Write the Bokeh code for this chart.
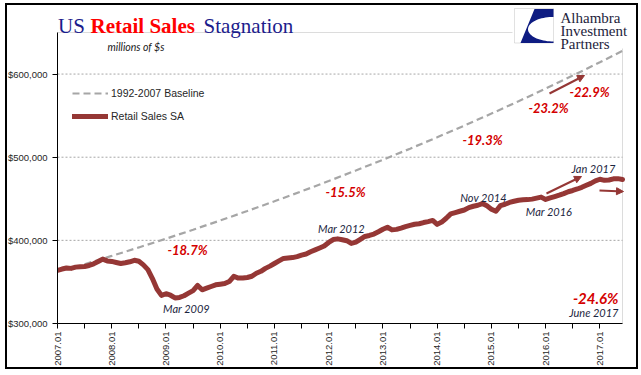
import math
import numpy as np
from bokeh.plotting import figure
from bokeh.models import (Label, Legend, LegendItem, FixedTicker, NumeralTickFormatter,
                          Arrow, NormalHead, BoxAnnotation, PolyAnnotation, Range1d,
                          InlineStyleSheet)
from bokeh.embed import file_html
from bokeh.resources import INLINE

# ---------------- data ----------------
month_labels = [f"{y}-{m:02d}" for y in range(2007, 2018) for m in range(1, 13)][:126]

# US Retail Sales SA, millions of $ (Jan 2007 - Jun 2017)
retail_sales = [
    363900, 365500, 366800, 366300, 367800, 368300, 368600, 369800, 371800, 374500, 377500, 375300,
    374700, 373400, 372200, 373000, 374200, 376000, 374800, 370500, 364800, 354000, 341500, 333800,
    335800, 334000, 330800, 331400, 333400, 336500, 339500, 345800, 340500, 342500, 344500, 346500,
    347300, 348000, 350500, 356800, 354600, 354600, 355300, 356800, 360500, 362800, 366300, 369000,
    372200, 375300, 378300, 378800, 379300, 380500, 382300, 383600, 386300, 388500, 390800, 393200,
    397500, 401000, 401800, 400800, 399600, 396300, 397800, 401300, 404700, 405900, 407600, 410400,
    413400, 415800, 412600, 413200, 414800, 416600, 418000, 419400, 420000, 421400, 422600, 424000,
    419200, 422000, 426600, 431800, 433400, 435000, 436500, 439400, 441000, 442200, 444200, 441500,
    437500, 435000, 441800, 443400, 445600, 447000, 448200, 448800, 449000, 449600, 450800, 452000,
    449200, 451000, 452600, 454300, 456200, 458500, 460000, 461800, 463800, 466200, 468500, 471500,
    473500, 472200, 472600, 474000, 474200, 473200,
]

# 1992-2007 Baseline (trend projection), millions of $
baseline_months = ["2007-07", "2008-01", "2008-07", "2009-01", "2009-07", "2010-01", "2010-07",
                   "2011-01", "2011-07", "2012-01", "2012-07", "2013-01", "2013-07", "2014-01",
                   "2014-07", "2015-01", "2015-07", "2016-01", "2016-07", "2017-01", "2017-06"]
baseline_values = [371300, 381300, 391500, 402000, 412800, 423900, 435300,
                   447000, 459000, 471300, 484000, 496900, 510300, 524000,
                   538000, 552500, 567300, 582500, 598200, 614200, 627900]

x_tick_months = ["2007-01", "2008-01", "2009-01", "2010-01", "2011-01", "2012-01",
                 "2013-01", "2014-01", "2015-01", "2016-01", "2017-01"]
x_tick_labels = ["2007.01", "2008.01", "2009.01", "2010.01", "2011.01", "2012.01",
                 "2013.01", "2014.01", "2015.01", "2016.01", "2017.01"]
y_tick_values = [300000, 400000, 500000, 600000]
y_axis_max = 650000

pct_texts = ["-18.7%", "-15.5%", "-19.3%", "-23.2%", "-22.9%", "-24.6%"]
date_texts = ["Mar 2009", "Mar 2012", "Nov 2014", "Mar 2016", "Jan 2017", "June 2017"]

# ---------------- geometry helpers (page px -> data) ----------------
W, H = 641, 375
FRAME_L, FRAME_R, FRAME_T, FRAME_B = 57, 622, 32, 323   # visible chart area, page px
X_MAX = len(month_labels) - 1
Y_MIN, Y_MAX = y_tick_values[0], y_axis_max

def px2x(px):
    return (px - FRAME_L) * X_MAX / (FRAME_R - FRAME_L)

def py2y(py):
    return Y_MIN + (FRAME_B - py) * (Y_MAX - Y_MIN) / (FRAME_B - FRAME_T)

x_retail = list(range(len(month_labels)))
x_base = [month_labels.index(m) for m in baseline_months]
x_ticks = [month_labels.index(m) for m in x_tick_months]
x_minor = [t + 6 for t in x_ticks if t + 6 <= X_MAX]

DARK_RED = "#953735"
NAVY = "#1c1c8c"
PCT_RED = "#d40000"
DATE_COL = "#1b2540"

# the drawing frame reaches the top/right edge of the canvas so that the title and
# logo (which sit above the chart area) are not clipped
border_css = InlineStyleSheet(css="""
:host { position: relative; }
:host::after { content: ""; position: absolute; left: 5px; top: 3px; width: 633px; height: 366px;
  border: 2px solid #000; box-sizing: border-box; pointer-events: none; z-index: 10; }
""")

p = figure(width=W, height=H, output_backend="svg", toolbar_location=None,
           x_range=Range1d(0, px2x(W)), y_range=Range1d(Y_MIN, py2y(0)),
           min_border_left=FRAME_L, min_border_right=0,
           min_border_top=0, min_border_bottom=H - FRAME_B,
           background_fill_color="white", border_fill_color="white",
           stylesheets=[border_css])
p.outline_line_color = None

# grid lines (dotted) at the upper y ticks
p.segment(x0=[0] * 3, x1=[X_MAX] * 3, y0=y_tick_values[1:], y1=y_tick_values[1:],
          line_color="#a6a6a6", line_dash="2 2", line_width=1)

# lines
r_base = p.line(x_base, baseline_values, line_color="#a6a6a6", line_width=2.2, line_dash="7 4")
r_retail = p.line(x_retail, retail_sales, line_color=DARK_RED, line_width=5,
                  line_join="round", line_cap="round")

# chart-area outline (grey)
p.add_layout(BoxAnnotation(left=0, right=X_MAX, bottom=Y_MIN, top=Y_MAX, fill_alpha=0,
                           line_color="#8c8c8c", line_width=1, level="underlay"))

# axes
xa = p.xaxis[0]
xa.bounds = (0, X_MAX)
xa.ticker = FixedTicker(ticks=x_ticks, minor_ticks=x_minor)
xa.major_label_overrides = {t: l for t, l in zip(x_ticks, x_tick_labels)}
xa.major_label_orientation = math.pi / 2
xa.major_label_text_font = "Liberation Sans"
xa.major_label_text_font_size = "9.5px"
xa.major_label_text_color = "#262626"
xa.major_label_standoff = 3
xa.axis_line_color = "black"
xa.major_tick_line_color = "black"
xa.minor_tick_line_color = "black"
xa.major_tick_in = 0
xa.major_tick_out = 5
xa.minor_tick_in = 0
xa.minor_tick_out = 5

ya = p.yaxis[0]
ya.bounds = (Y_MIN, Y_MAX)
ya.ticker = FixedTicker(ticks=y_tick_values, minor_ticks=[])
ya.formatter = NumeralTickFormatter(format="$0,0")
ya.major_label_text_font = "Liberation Sans"
ya.major_label_text_font_size = "9.5px"
ya.major_label_text_color = "#262626"
ya.major_label_standoff = 5
ya.axis_line_color = "black"
ya.major_tick_line_color = "black"
ya.major_tick_in = 0
ya.major_tick_out = 5

p.xgrid.visible = False
p.ygrid.visible = False

# legend
legend = Legend(items=[LegendItem(label="1992-2007 Baseline", renderers=[r_base]),
                       LegendItem(label="Retail Sales SA", renderers=[r_retail])],
                location=(15, 199), orientation="vertical",
                background_fill_alpha=0, border_line_color=None,
                padding=0, margin=0, spacing=7, glyph_width=36, glyph_height=16,
                label_height=16, label_standoff=3,
                label_text_font="Liberation Sans", label_text_font_size="10.5px",
                label_text_color="#262626")
p.add_layout(legend)

# units note
p.add_layout(Label(x=px2x(107), y=py2y(46.5), text="millions of $s", text_font="Lato",
                   text_font_style="italic", text_font_size="10.5px", text_color="#1a1a1a",
                   text_baseline="alphabetic"))

# percent annotations (page-pixel anchor: left/right, vertical centre)
pct_pos = [(167, 249, "left", 13), (325, 191, "left", 13), (462, 139, "left", 13),
           (528, 107, "left", 13), (569, 91, "left", 13), (618, 297, "right", 15)]
for txt, (px, py, al, fs) in zip(pct_texts, pct_pos):
    p.add_layout(Label(x=px2x(px), y=py2y(py), text=txt, text_font="Lato",
                       text_font_style="bold italic", text_font_size=f"{fs}px",
                       text_color=PCT_RED, text_align=al, text_baseline="middle"))

date_pos = [(186, 308, "center"), (341, 227.5, "center"), (483, 196.5, "center"),
            (548.5, 210.5, "center"), (593, 167.5, "center"), (618, 312, "right")]
for txt, (px, py, al) in zip(date_texts, date_pos):
    p.add_layout(Label(x=px2x(px), y=py2y(py), text=txt, text_font="Lato",
                       text_font_style="italic", text_font_size="11px",
                       text_color=DATE_COL, text_align=al, text_baseline="middle"))

# arrows
for (x0, y0, x1, y1) in [(549, 93, 584, 75), (546, 193, 581, 176), (599, 190, 623, 191)]:
    p.add_layout(Arrow(end=NormalHead(size=7, fill_color=DARK_RED, line_color=DARK_RED),
                       x_start=px2x(x0), y_start=py2y(y0), x_end=px2x(x1), y_end=py2y(y1),
                       line_color=DARK_RED, line_width=2))

# title
for txt, px, col, style in [("US", 57.5, NAVY, "normal"), ("Retail Sales", 90, "#ff0000", "bold"),
                            ("Stagnation", 203, NAVY, "normal")]:
    p.add_layout(Label(x=px2x(px), y=py2y(25.3), text=txt, text_font="Liberation Serif",
                       text_font_size="21px", text_font_style=style, text_color=col,
                       text_baseline="alphabetic"))

# logo area (white box covering the chart-area corner)
p.add_layout(BoxAnnotation(left=px2x(512), right=px2x(645), top=py2y(-5), bottom=py2y(48),
                           fill_color="white", fill_alpha=1, line_alpha=0, level="overlay"))
p.add_layout(BoxAnnotation(left=px2x(514), right=px2x(553), top=py2y(8), bottom=py2y(42.5),
                           fill_alpha=0, line_color="#9a9a9a", line_width=1, level="overlay"))
t = np.linspace(-math.pi / 2, math.pi / 2, 40)
arc_x = 553 - 25.5 * np.cos(t)
arc_y = 28.7 + 12.3 * np.sin(t)
lx = [534, 553] + list(arc_x) + [553, 520]
ly = [8.5, 8.5] + list(arc_y) + [42.5, 42.5]
p.add_layout(PolyAnnotation(xs=[px2x(v) for v in lx], ys=[py2y(v) for v in ly],
                            fill_color="#0e1c82", fill_alpha=1, line_alpha=0, level="overlay"))
for txt, by in [("Alhambra", 17.3), ("Investment", 30.2), ("Partners", 43.2)]:
    p.add_layout(Label(x=px2x(560), y=py2y(by), text=txt, text_font="Liberation Serif",
                       text_font_size="15px", text_color="#1e1e3c",
                       text_baseline="alphabetic", level="overlay"))

open("out.html", "w").write(file_html(p, INLINE))
